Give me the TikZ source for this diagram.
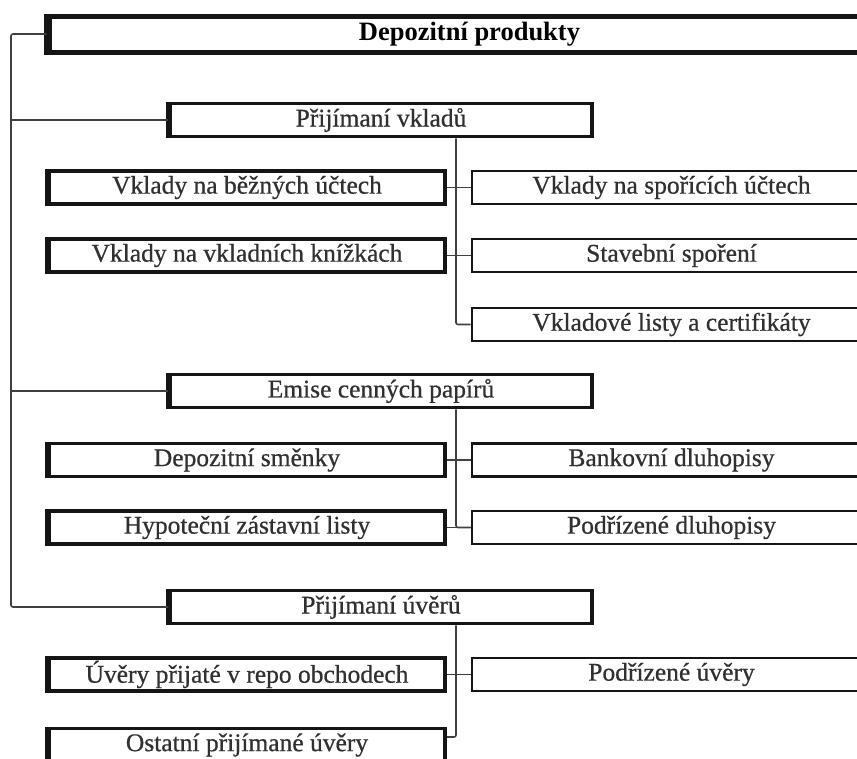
\documentclass[tikz,border=0pt]{standalone}
\usepackage{fontspec}
\setmainfont{Liberation Serif}
\newfontfamily\boxfont[FakeBold=0.6]{Liberation Serif}
\definecolor{boxc}{HTML}{151515}
\definecolor{txt}{HTML}{303030}
\definecolor{linec}{HTML}{404040}
\begin{document}
\begin{tikzpicture}[x=1pt,y=-1pt,
  basebox/.style={draw=boxc, fill=white, inner sep=0pt, text=txt,
    font=\boxfont\fontsize{25.5}{27}\selectfont},
  topbox/.style={basebox, line width=5pt, minimum width=841pt, minimum height=36pt,
    font=\fontsize{26.5}{28}\selectfont\bfseries, text=black},
  midbox/.style={basebox, line width=3.5pt, minimum width=422pt, minimum height=33pt},
  leftbox/.style={basebox, line width=3.5pt, minimum width=396pt, minimum height=33pt},
  rightbox/.style={basebox, line width=2.8pt, minimum width=399pt, minimum height=33pt},
  conn/.style={draw=linec, line width=1.6pt},
  thickedge/.style={draw=boxc, line width=5.5pt}]
\useasboundingbox (0,0) rectangle (857,758);
\clip (0,0) rectangle (857,758);

% top
\node[topbox] (T) at (469.5,34) {Depozitní produkty};

% level 1
\node[midbox] (V1) at (381,120) {Přijímaní vkladů};
\node[midbox] (V2) at (381,391) {Emise cenných papírů};
\node[midbox] (V3) at (381,607) {Přijímaní úvěrů};

% group A
\node[leftbox]  (A1L) at (247,187.5) {Vklady na běžných účtech};
\node[rightbox] (A1R) at (671.5,187.5) {Vklady na spořících účtech};
\node[leftbox]  (A2L) at (247,255.5) {Vklady na vkladních knížkách};
\node[rightbox] (A2R) at (671.5,255.5) {Stavební spoření};
\node[rightbox] (A3R) at (671.5,324.5) {Vkladové listy a certifikáty};

% group B
\node[leftbox]  (B1L) at (247,460) {Depozitní směnky};
\node[rightbox] (B1R) at (671.5,460) {Bankovní dluhopisy};
\node[leftbox]  (B2L) at (247,527.5) {Hypoteční zástavní listy};
\node[rightbox] (B2R) at (671.5,527.5) {Podřízené dluhopisy};

% group C
\node[leftbox]  (C1L) at (247,674.5) {Úvěry přijaté v repo obchodech};
\node[rightbox] (C1R) at (671.5,674.5) {Podřízené úvěry};
\node[leftbox]  (C2L) at (247,745) {Ostatní přijímané úvěry};

% thicker left edges
\foreach \n in {T,V1,V2,V3,A1L,A2L,B1L,B2L,C1L,C2L}
  \draw[thickedge] (\n.north west) -- (\n.south west);

% coordinates
\coordinate (tk) at (11,400);
\coordinate (bx) at (456,0);

% trunk
\draw[conn, rounded corners=2pt] (T.west) -| (tk) |- (V3.west);
\draw[conn] (tk |- V1.west) -- (V1.west);
\draw[conn] (tk |- V2.west) -- (V2.west);

% group A connectors
\draw[conn, rounded corners=2pt] (bx |- V1.south) |- (A3R.west);
\draw[conn] (A1L.east) -- (A1R.west);
\draw[conn] (A2L.east) -- (A2R.west);

% group B connectors
\draw[conn, rounded corners=2pt] (bx |- V2.south) |- (B2R.west);
\draw[conn] (B1L.east) -- (B1R.west);
\draw[conn] (B2L.east) -- (B2R.west);

% group C connectors
\coordinate (c2j) at (456,737);
\draw[conn, rounded corners=2pt] (bx |- V3.south) -- (c2j) -- (c2j -| C2L.east);
\draw[conn] (C1L.east) -- (C1R.west);
\end{tikzpicture}
\end{document}
